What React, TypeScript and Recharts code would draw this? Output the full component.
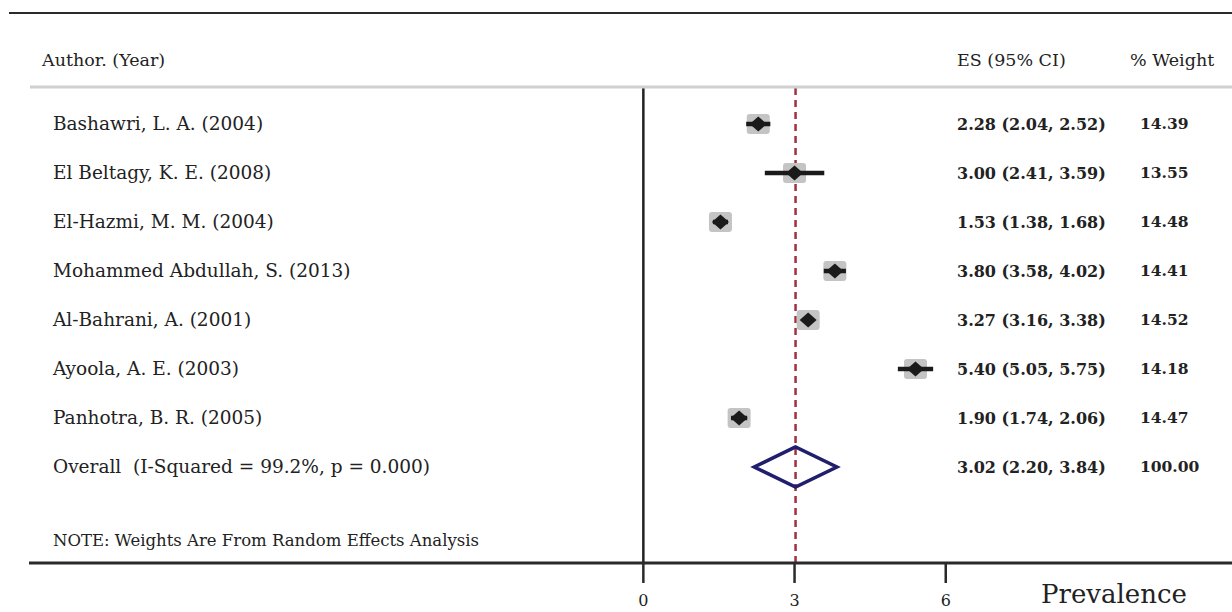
import React from "react"
import { ComposedChart, Scatter, LabelList, XAxis, YAxis, ReferenceLine } from "recharts"

const studies = [
  "Bashawri, L. A. (2004)",
  "El Beltagy, K. E. (2008)",
  "El-Hazmi, M. M. (2004)",
  "Mohammed Abdullah, S. (2013)",
  "Al-Bahrani, A. (2001)",
  "Ayoola, A. E. (2003)",
  "Panhotra, B. R. (2005)",
]
const es = [2.28, 3.0, 1.53, 3.8, 3.27, 5.4, 1.9]
const ciLow = [2.04, 2.41, 1.38, 3.58, 3.16, 5.05, 1.74]
const ciHigh = [2.52, 3.59, 1.68, 4.02, 3.38, 5.75, 2.06]
const weights = ["14.39", "13.55", "14.48", "14.41", "14.52", "14.18", "14.47"]

const overallLabel = "Overall  (I-Squared = 99.2%, p = 0.000)"
const overallEs = 3.02
const overallLow = 2.2
const overallHigh = 3.84
const overallWeight = "100.00"

const xTicks = [0, 3, 6]
const noteText = "NOTE: Weights Are From Random Effects Analysis"

const W = 1232
const H = 612
const FONT = "'DejaVu Serif', serif"

const fmt = (v: number) => v.toFixed(2)

const rows = studies.map((name, i) => ({ x: es[i], y: i }))

const overallRow = studies.length
const textRows = [
  ...studies.map((name, i) => ({
    x: 0,
    y: i,
    name,
    text: `${fmt(es[i])} (${fmt(ciLow[i])}, ${fmt(ciHigh[i])})`,
    weight: weights[i],
  })),
  {
    x: 0,
    y: overallRow,
    name: overallLabel,
    text: `${fmt(overallEs)} (${fmt(overallLow)}, ${fmt(overallHigh)})`,
    weight: overallWeight,
  },
]

// pooled-estimate diamond, half height in row units
const dh = 0.41
const diamond = [
  { x: overallLow, y: overallRow },
  { x: overallEs, y: overallRow - dh },
  { x: overallHigh, y: overallRow },
  { x: overallEs, y: overallRow + dh },
  { x: overallLow, y: overallRow },
  { x: overallEs, y: overallRow - dh },
]

const GraySquare = (props: any) => {
  const { cx, cy } = props
  return <rect x={cx - 11.5} y={cy - 10} width={23} height={20} rx={3} fill="#c4c4c4" />
}

const BlackDiamond = (props: any) => {
  const { cx, cy } = props
  return <path d={`M${cx - 8.5},${cy} L${cx},${cy - 7.5} L${cx + 8.5},${cy} L${cx},${cy + 7.5} Z`} fill="#1a1a1a" />
}

const RowText = (props: any) => {
  const { viewBox, index } = props
  const r = textRows[index]
  if (!r || !viewBox) return null
  const y = viewBox.y + viewBox.height / 2
  return (
    <g fontFamily={FONT} fill="#222">
      <text x={53} y={y} dy="0.35em" fontSize={18.5} style={{ whiteSpace: "pre" }}>{r.name}</text>
      <text x={957} y={y} dy="0.35em" fontSize={16} fontWeight="bold">{r.text}</text>
      <text x={1140} y={y} dy="0.35em" fontSize={15.5} fontWeight="bold">{r.weight}</text>
    </g>
  )
}

export default function App() {
  return (
    <div style={{ position: "absolute", left: 0, top: 0, width: W, height: H, background: "#fff" }}>
      <ComposedChart width={W} height={H} margin={{ top: 87, right: 0, bottom: 0, left: 29 }}>
        <XAxis
          type="number"
          dataKey="x"
          domain={[-12.19, 11.68]}
          ticks={xTicks}
          allowDataOverflow
          height={49}
          axisLine={{ stroke: "#2a2a2a", strokeWidth: 3 }}
          tickLine={{ stroke: "#2a2a2a", strokeWidth: 2.5 }}
          tickSize={20}
          tickMargin={12}
          tick={{ fill: "#222", fontSize: 16, fontFamily: FONT }}
        />
        <YAxis type="number" dataKey="y" domain={[-0.755, 8.959]} reversed allowDataOverflow width={0} hide />
        <ReferenceLine x={0} stroke="#222" strokeWidth={2.5} />
        <ReferenceLine x={overallEs} stroke="#a3303d" strokeWidth={2.5} strokeDasharray="7 5" />
        <Scatter data={rows} shape={<GraySquare />} isAnimationActive={false} />
        {studies.map((s, i) => (
          <Scatter
            key={s}
            data={[
              { x: ciLow[i], y: i },
              { x: ciHigh[i], y: i },
            ]}
            shape={() => null}
            line={{ stroke: "#1a1a1a", strokeWidth: 4.5 }}
            isAnimationActive={false}
          />
        ))}
        <Scatter data={rows} shape={<BlackDiamond />} isAnimationActive={false} />
        <Scatter
          data={diamond}
          shape={() => null}
          line={{ stroke: "#1f1f6e", strokeWidth: 3.5, strokeLinejoin: "miter" }}
          isAnimationActive={false}
        />
        <Scatter data={textRows} shape={() => null} isAnimationActive={false}>
          <LabelList dataKey="name" content={<RowText />} />
        </Scatter>
      </ComposedChart>
      <svg width={W} height={H} style={{ position: "absolute", left: 0, top: 0, pointerEvents: "none" }}>
        <line x1={9} x2={W} y1={13} y2={13} stroke="#2a2a2a" strokeWidth={2} />
        <line x1={30} x2={W} y1={87} y2={87} stroke="#d0d0d0" strokeWidth={3} />
        <g fontFamily={FONT} fill="#222" fontSize={17.5}>
          <text x={42} y={60} dy="0.35em">Author. (Year)</text>
          <text x={957} y={60} dy="0.35em">ES (95% CI)</text>
          <text x={1130} y={60} dy="0.35em">% Weight</text>
          <text x={53} y={540} dy="0.35em" fontSize={16.5}>{noteText}</text>
          <text x={1041} y={603} fontSize={26}>Prevalence</text>
        </g>
      </svg>
    </div>
  )
}
